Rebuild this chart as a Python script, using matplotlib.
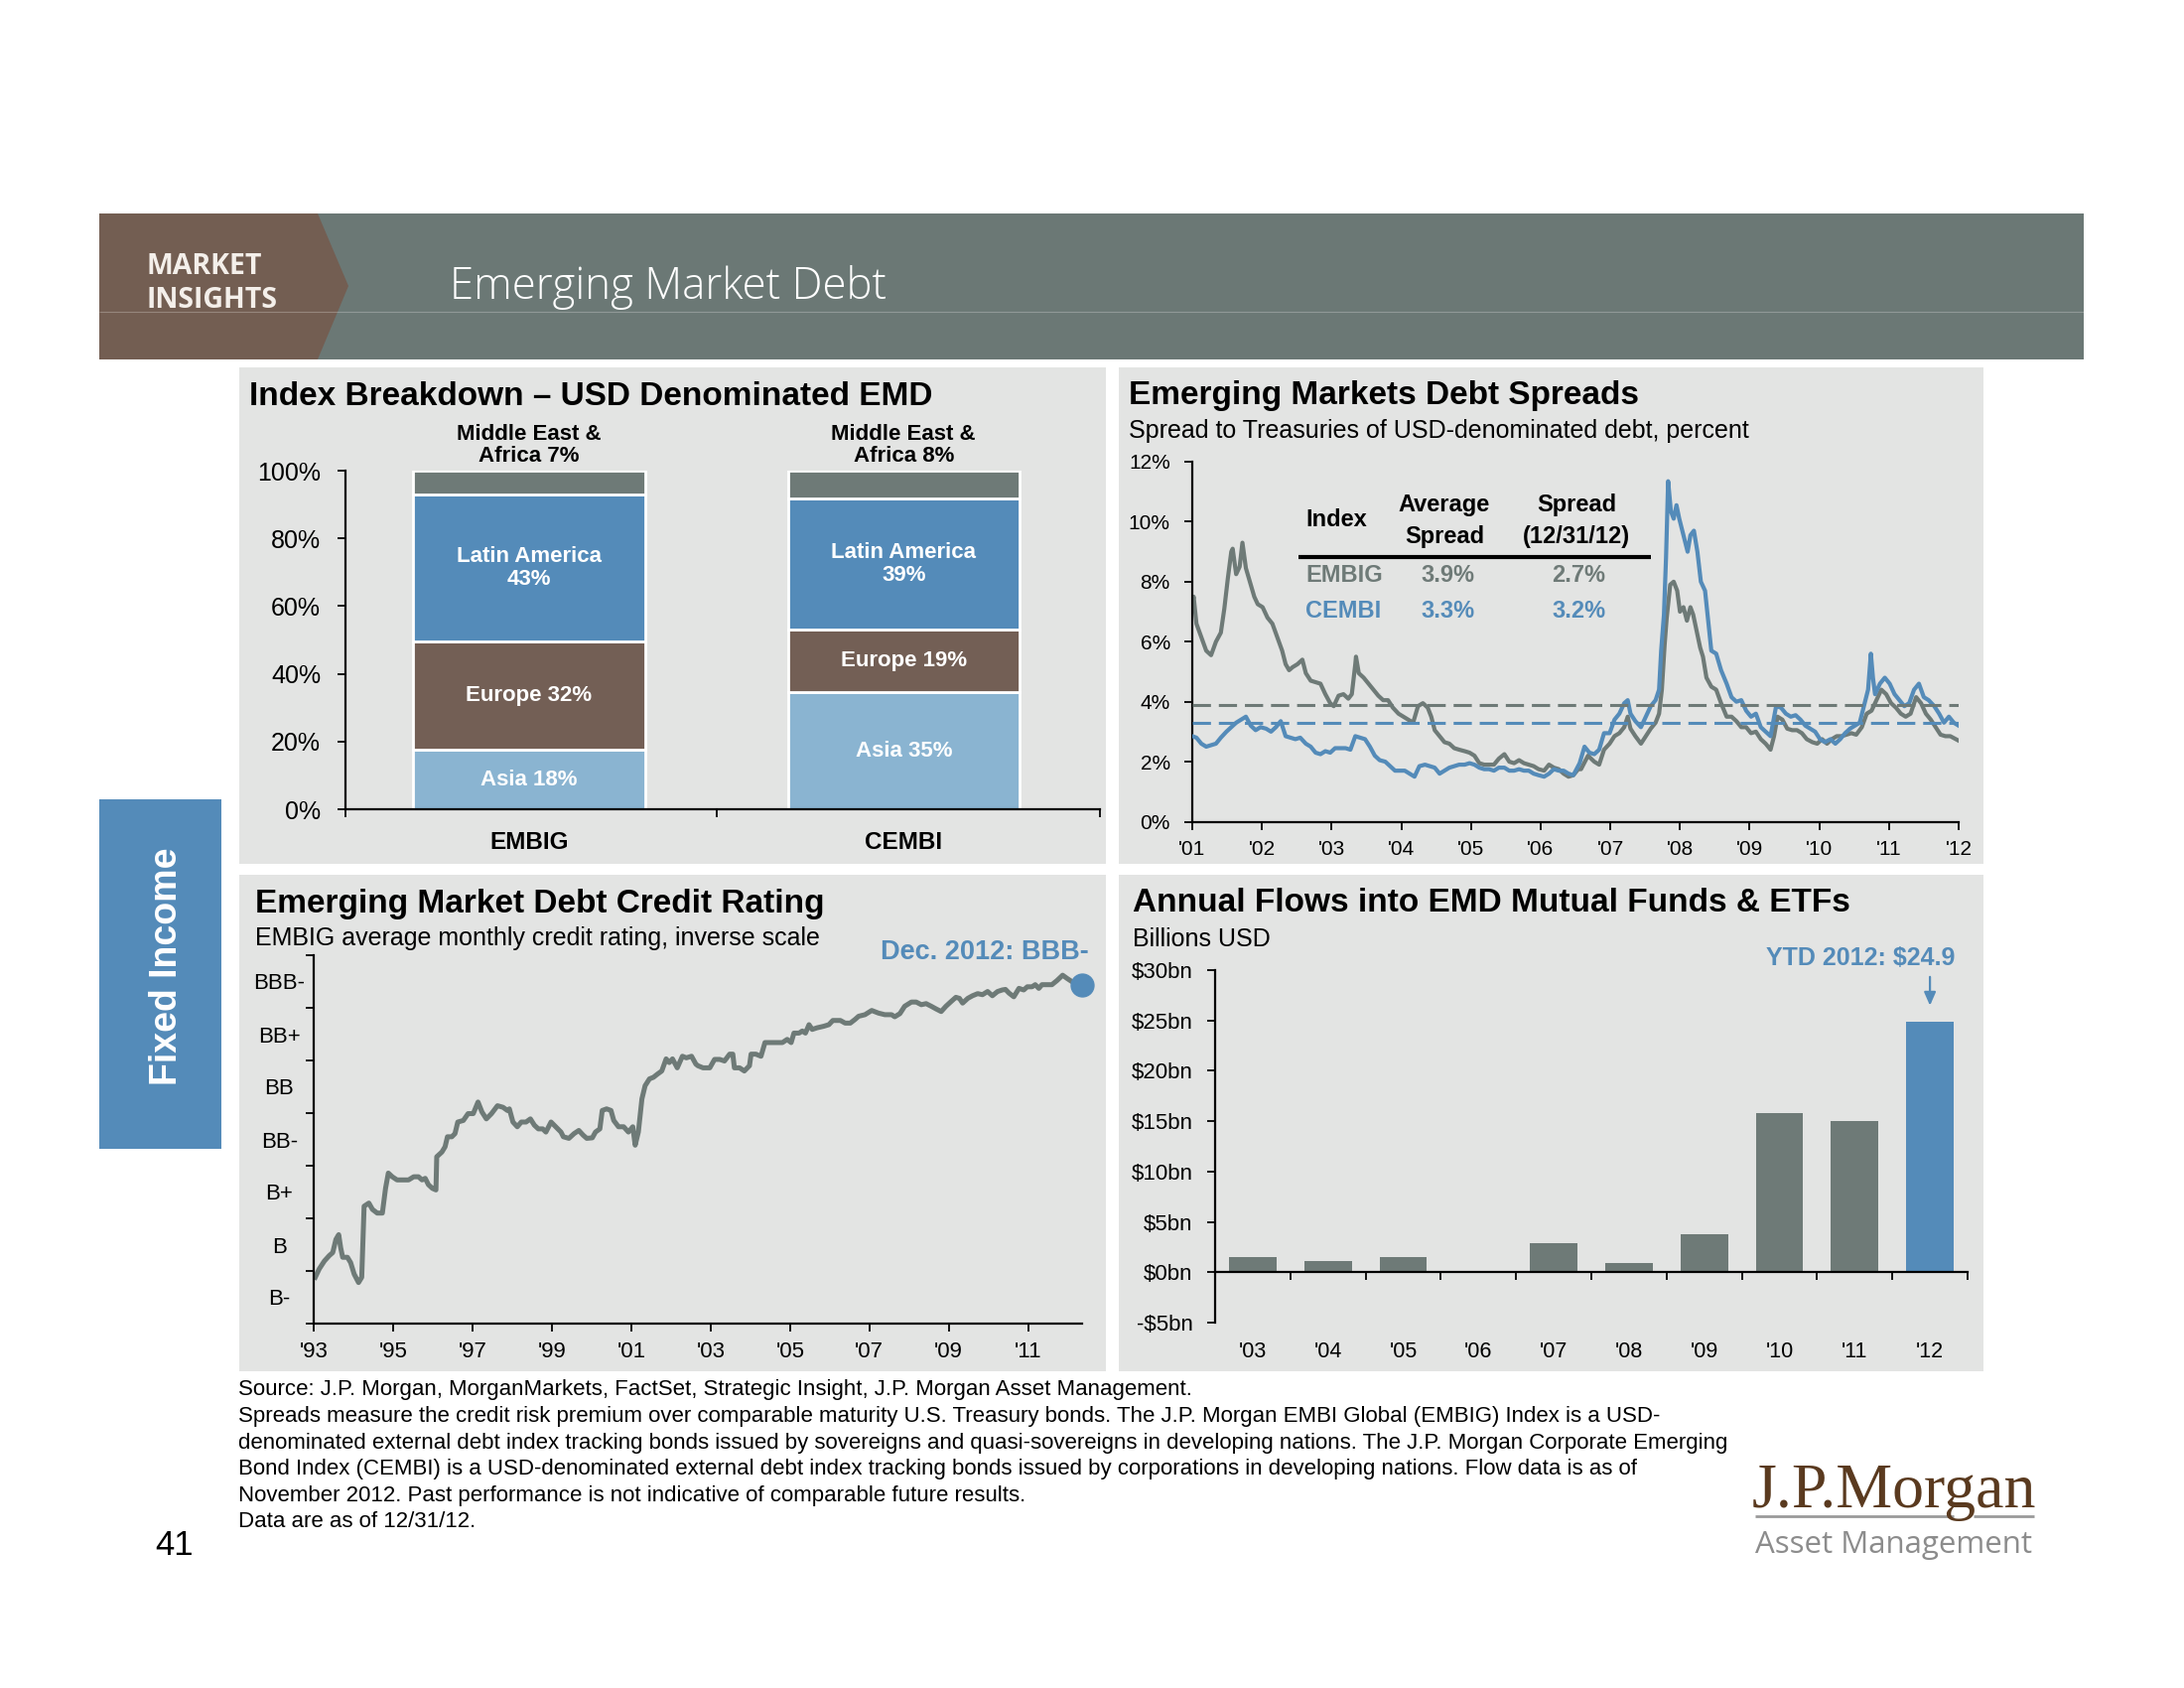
import matplotlib
matplotlib.use('Agg')
import matplotlib.pyplot as plt
from matplotlib.patches import Rectangle, Polygon
from matplotlib.lines import Line2D
from matplotlib import font_manager as fm

# ---------------- DATA ----------------
# Index breakdown (stacked %)
indices = ['EMBIG', 'CEMBI']
asia = [17.5, 34.5]
europe = [32.0, 18.5]
latam = [43.5, 38.8]
mea = [7.0, 8.2]
asia_lbl = ['Asia 18%', 'Asia 35%']
europe_lbl = ['Europe 32%', 'Europe 19%']
latam_lbl = ['Latin America\n43%', 'Latin America\n39%']
mea_lbl = ['Middle East &\nAfrica 7%', 'Middle East &\nAfrica 8%']

# Spreads (percent)
embig_years = [2001.00, 2001.02, 2001.06, 2001.13, 2001.20, 2001.27, 2001.34, 2001.41, 2001.46, 2001.51,
               2001.56, 2001.58, 2001.63, 2001.68, 2001.72, 2001.77, 2001.84, 2001.89, 2001.94,
               2002.01, 2002.08, 2002.15, 2002.22, 2002.29, 2002.34, 2002.39, 2002.44, 2002.51, 2002.58,
               2002.63, 2002.70, 2002.77, 2002.84, 2002.91, 2002.98,
               2003.03, 2003.10, 2003.17, 2003.24, 2003.29, 2003.34, 2003.35, 2003.39, 2003.46, 2003.53,
               2003.60, 2003.67, 2003.74, 2003.81, 2003.88, 2003.96,
               2004.03, 2004.10, 2004.17, 2004.24, 2004.31, 2004.38, 2004.43, 2004.48, 2004.55, 2004.62,
               2004.69, 2004.76, 2004.83, 2004.91, 2004.98,
               2005.05, 2005.12, 2005.19, 2005.26, 2005.33, 2005.40, 2005.48, 2005.55, 2005.62, 2005.69,
               2005.76, 2005.83, 2005.90, 2005.97,
               2006.05, 2006.12, 2006.19, 2006.26, 2006.33, 2006.40, 2006.47, 2006.54,
               2006.58, 2006.68, 2006.77, 2006.84, 2006.91, 2006.99,
               2007.06, 2007.13, 2007.20, 2007.25, 2007.29, 2007.36, 2007.44, 2007.51, 2007.58, 2007.65,
               2007.70, 2007.74, 2007.78, 2007.81, 2007.86, 2007.91, 2007.96,
               2008.00, 2008.05, 2008.10, 2008.15, 2008.19, 2008.24, 2008.29, 2008.33, 2008.38, 2008.45,
               2008.52, 2008.59, 2008.67, 2008.74, 2008.81, 2008.88, 2008.95,
               2009.02, 2009.09, 2009.16, 2009.23, 2009.30, 2009.35, 2009.40, 2009.47, 2009.54, 2009.61,
               2009.68, 2009.75, 2009.82, 2009.90, 2009.97,
               2010.04, 2010.11, 2010.18, 2010.25, 2010.32, 2010.39, 2010.46, 2010.53, 2010.61, 2010.68,
               2010.75, 2010.82, 2010.89, 2010.96,
               2011.03, 2011.10, 2011.17, 2011.24, 2011.31, 2011.39, 2011.46, 2011.53, 2011.60, 2011.67,
               2011.74, 2011.81, 2011.88, 2012.00]
embig_values = [7.3, 7.5, 6.6, 6.15, 5.7, 5.55, 6.0, 6.3, 7.1, 8.1,
                9.0, 9.1, 8.25, 8.5, 9.3, 8.45, 7.9, 7.5, 7.25,
                7.15, 6.8, 6.6, 6.15, 5.7, 5.25, 5.05, 5.15, 5.25, 5.4,
                4.95, 4.7, 4.65, 4.6, 4.25, 3.95,
                3.85, 4.2, 4.25, 4.1, 4.25, 5.25, 5.5, 4.95, 4.8, 4.6,
                4.4, 4.2, 4.05, 4.05, 3.8, 3.6,
                3.5, 3.4, 3.3, 3.85, 3.95, 3.8, 3.5, 3.05, 2.85, 2.65,
                2.6, 2.45, 2.4, 2.35, 2.3,
                2.2, 1.95, 1.9, 1.9, 1.9, 2.1, 2.25, 2.0, 1.95, 2.05,
                1.95, 1.9, 1.85, 1.75,
                1.7, 1.9, 1.8, 1.75, 1.6, 1.5, 1.55, 1.75,
                1.75, 2.2, 2.0, 1.9, 2.4, 2.6,
                2.85, 2.95, 3.15, 3.5, 3.1, 2.85, 2.6, 2.85, 3.1, 3.3,
                3.6, 4.4, 5.9, 6.8, 7.9, 8.0, 7.7,
                7.0, 7.15, 6.7, 7.15, 6.9, 6.35, 5.8, 5.5, 4.8, 4.5,
                4.4, 3.95, 3.5, 3.5, 3.35, 3.15, 3.15,
                2.95, 3.0, 2.75, 2.6, 2.4, 2.85, 3.5, 3.4, 3.1, 3.05,
                3.05, 2.95, 2.75, 2.65, 2.6,
                2.75, 2.6, 2.75, 2.85, 2.85, 2.9, 2.95, 2.9, 3.15, 3.6,
                3.7, 4.05, 4.4, 4.25,
                3.95, 3.8, 3.6, 3.5, 3.6, 4.15, 3.95, 3.6, 3.4, 3.15,
                2.9, 2.85, 2.85, 2.7]
cembi_years = [2001.00, 2001.06, 2001.13, 2001.20, 2001.27, 2001.34, 2001.41, 2001.49, 2001.56, 2001.63,
               2001.70, 2001.77, 2001.84, 2001.91, 2001.98,
               2002.06, 2002.13, 2002.20, 2002.27, 2002.34, 2002.41, 2002.48, 2002.55, 2002.63, 2002.70,
               2002.77, 2002.84, 2002.91, 2002.98,
               2003.05, 2003.12, 2003.20, 2003.27, 2003.34, 2003.41, 2003.48, 2003.55, 2003.62, 2003.69,
               2003.77, 2003.84, 2003.91, 2003.98,
               2004.05, 2004.12, 2004.19, 2004.26, 2004.34, 2004.41, 2004.48, 2004.55, 2004.62, 2004.69,
               2004.76, 2004.83, 2004.91, 2004.98,
               2005.05, 2005.12, 2005.19, 2005.26, 2005.33, 2005.40, 2005.48, 2005.55, 2005.62, 2005.69,
               2005.76, 2005.83, 2005.90, 2005.97,
               2006.05, 2006.12, 2006.19, 2006.26, 2006.33, 2006.40, 2006.47,
               2006.56, 2006.63, 2006.70, 2006.77, 2006.84, 2006.91, 2006.99,
               2007.06, 2007.13, 2007.20, 2007.25, 2007.29, 2007.36, 2007.44, 2007.51, 2007.58, 2007.65,
               2007.70, 2007.73, 2007.77, 2007.80, 2007.83, 2007.87, 2007.91, 2007.95, 2007.99,
               2008.05, 2008.11, 2008.15, 2008.20, 2008.25, 2008.30, 2008.36, 2008.41, 2008.45, 2008.52,
               2008.59, 2008.67, 2008.74, 2008.81, 2008.88, 2008.95,
               2009.02, 2009.09, 2009.16, 2009.23, 2009.30, 2009.38, 2009.45, 2009.52, 2009.59, 2009.66,
               2009.73, 2009.80, 2009.87, 2009.94,
               2010.01, 2010.08, 2010.16, 2010.23, 2010.30, 2010.37, 2010.44, 2010.51, 2010.58, 2010.65,
               2010.70, 2010.74, 2010.77, 2010.80, 2010.87, 2010.94,
               2011.01, 2011.08, 2011.15, 2011.22, 2011.29, 2011.36, 2011.43, 2011.50, 2011.57, 2011.65,
               2011.72, 2011.79, 2011.86, 2011.93, 2012.00]
cembi_values = [2.85, 2.8, 2.6, 2.5, 2.55, 2.6, 2.8, 3.0, 3.15, 3.3,
                3.4, 3.5, 3.2, 3.05, 3.15,
                3.1, 3.0, 3.15, 3.35, 2.85, 2.8, 2.75, 2.8, 2.6, 2.5,
                2.3, 2.25, 2.35, 2.3,
                2.45, 2.45, 2.45, 2.4, 2.85, 2.8, 2.75, 2.5, 2.2, 2.05,
                2.0, 1.85, 1.7, 1.7,
                1.7, 1.6, 1.5, 1.85, 1.9, 1.85, 1.8, 1.6, 1.7, 1.8,
                1.85, 1.9, 1.9, 1.95,
                1.9, 1.8, 1.75, 1.75, 1.7, 1.8, 1.8, 1.7, 1.7, 1.75,
                1.7, 1.7, 1.6, 1.55,
                1.5, 1.6, 1.75, 1.7, 1.7, 1.6, 1.55,
                1.95, 2.5, 2.3, 2.25, 2.4, 2.95, 2.95,
                3.4, 3.6, 3.95, 4.05, 3.6, 3.35, 3.15, 3.5, 3.85, 4.05,
                4.4, 5.7, 6.9, 8.8, 11.35, 10.35, 10.1, 10.55, 10.1,
                9.55, 9.0, 9.55, 9.7, 9.0, 8.0, 7.7, 6.6, 5.7, 5.6,
                5.05, 4.6, 4.15, 4.0, 4.05, 3.7,
                3.5, 3.6, 3.15, 3.0, 2.85, 3.85, 3.8, 3.6, 3.5, 3.55,
                3.4, 3.2, 3.1, 3.0,
                2.75, 2.65, 2.75, 2.6, 2.75, 2.95, 3.1, 3.2, 3.3, 3.95,
                4.4, 5.6, 4.8, 4.25, 4.6, 4.8,
                4.6, 4.25, 4.05, 3.85, 3.95, 4.4, 4.6, 4.15, 4.05, 3.85,
                3.6, 3.3, 3.5, 3.3, 3.2]
spread_avg = [3.9, 3.3]          # EMBIG, CEMBI average spread
spread_last = [2.7, 3.2]         # spread at 12/31/12
spread_year_ticks = list(range(2001, 2013))
spread_year_labels = ["'01", "'02", "'03", "'04", "'05", "'06", "'07", "'08", "'09", "'10", "'11", "'12"]

# Credit rating (band index: 0.5 = B- ... 6.5 = BBB-)
rating_labels = ['B-', 'B', 'B+', 'BB-', 'BB', 'BB+', 'BBB-']
rating_years = [1993.04, 1993.14, 1993.27, 1993.39, 1993.48, 1993.56, 1993.63, 1993.68, 1993.73, 1993.85,
                1993.93, 1994.02, 1994.13, 1994.21, 1994.27, 1994.39, 1994.48, 1994.60, 1994.73, 1994.81,
                1994.88, 1994.98, 1995.10, 1995.23, 1995.39, 1995.52, 1995.64, 1995.73, 1995.81, 1995.89,
                1995.99, 1996.08, 1996.10, 1996.23, 1996.31, 1996.37, 1996.48, 1996.56, 1996.63, 1996.77,
                1996.89, 1997.02, 1997.14, 1997.24, 1997.35, 1997.48, 1997.63, 1997.77, 1997.88, 1997.93,
                1998.02, 1998.13, 1998.23, 1998.35, 1998.46, 1998.56, 1998.66, 1998.77, 1998.85, 1998.98,
                1999.10, 1999.23, 1999.29, 1999.43, 1999.56, 1999.68, 1999.79, 1999.88, 2000.02, 2000.10,
                2000.21, 2000.27, 2000.38, 2000.49, 2000.56, 2000.68, 2000.81, 2000.93, 2001.04, 2001.10,
                2001.18, 2001.27, 2001.35, 2001.46, 2001.56, 2001.66, 2001.77, 2001.88, 2001.96, 2002.04,
                2002.16, 2002.29, 2002.39, 2002.52, 2002.63,
                2002.68, 2002.81, 2002.98, 2003.10, 2003.23, 2003.35, 2003.48, 2003.56, 2003.60, 2003.73,
                2003.85, 2003.98, 2004.02, 2004.14, 2004.27, 2004.37, 2004.48, 2004.64, 2004.81, 2004.93,
                2005.03, 2005.10, 2005.23, 2005.31, 2005.39, 2005.48, 2005.56, 2005.68, 2005.85, 2005.98,
                2006.08, 2006.27, 2006.39, 2006.52, 2006.64, 2006.73, 2006.89, 2007.06, 2007.23, 2007.39,
                2007.56, 2007.64, 2007.77, 2007.89, 2008.06, 2008.18, 2008.31, 2008.43, 2008.56, 2008.68,
                2008.81, 2008.93, 2009.06, 2009.18, 2009.27, 2009.35, 2009.48, 2009.60, 2009.73, 2009.85,
                2009.98, 2010.10, 2010.23, 2010.35, 2010.43, 2010.52, 2010.64, 2010.77, 2010.89, 2010.98,
                2011.10, 2011.18, 2011.27, 2011.35, 2011.48, 2011.60, 2011.73, 2011.87, 2011.98, 2012.10,
                2012.27, 2012.36]
rating_values = [0.88, 1.04, 1.19, 1.29, 1.35, 1.60, 1.69, 1.44, 1.26, 1.26,
                 1.16, 0.94, 0.78, 0.88, 2.23, 2.29, 2.17, 2.10, 2.10, 2.57,
                 2.86, 2.79, 2.73, 2.73, 2.73, 2.79, 2.79, 2.73, 2.76, 2.64,
                 2.57, 2.54, 3.17, 3.26, 3.36, 3.55, 3.55, 3.61, 3.83, 3.86,
                 3.99, 3.99, 4.21, 4.02, 3.89, 3.99, 4.14, 4.11, 4.05, 4.08,
                 3.83, 3.74, 3.83, 3.83, 3.89, 3.77, 3.70, 3.70, 3.64, 3.83,
                 3.74, 3.64, 3.55, 3.52, 3.61, 3.67, 3.58, 3.52, 3.53, 3.64,
                 3.70, 4.05, 4.08, 4.05, 3.86, 3.74, 3.74, 3.64, 3.74, 3.39,
                 3.64, 4.27, 4.52, 4.65, 4.68, 4.74, 4.80, 5.03, 4.96, 5.03,
                 4.86, 5.08, 5.05, 5.08, 4.93,
                 4.90, 4.86, 4.86, 5.02, 5.02, 4.99, 5.12, 5.12, 4.86, 4.86,
                 4.80, 4.90, 5.12, 5.12, 5.08, 5.34, 5.34, 5.34, 5.34, 5.40,
                 5.34, 5.52, 5.52, 5.56, 5.52, 5.68, 5.59, 5.62, 5.65, 5.68,
                 5.76, 5.76, 5.71, 5.71, 5.78, 5.84, 5.87, 5.95, 5.90, 5.87,
                 5.87, 5.83, 5.89, 6.03, 6.11, 6.11, 6.06, 6.08, 6.03, 5.98,
                 5.93, 6.03, 6.12, 6.20, 6.18, 6.09, 6.18, 6.23, 6.27, 6.25,
                 6.31, 6.23, 6.31, 6.34, 6.35, 6.28, 6.21, 6.37, 6.34, 6.40,
                 6.40, 6.44, 6.37, 6.44, 6.44, 6.44, 6.52, 6.62, 6.56, 6.50,
                 6.44, 6.44]
rating_year_ticks = list(range(1993, 2012, 2))
rating_year_labels = ["'93", "'95", "'97", "'99", "'01", "'03", "'05", "'07", "'09", "'11"]

# Annual flows (billions USD)
flow_labels = ["'03", "'04", "'05", "'06", "'07", "'08", "'09", "'10", "'11", "'12"]
flow_values = [1.5, 1.1, 1.5, 0.1, 2.9, 0.9, 3.75, 15.8, 15.0, 24.9]
flow_ticks = [-5, 0, 5, 10, 15, 20, 25, 30]

footnotes = [
    "Source: J.P. Morgan, MorganMarkets, FactSet, Strategic Insight, J.P. Morgan Asset Management.",
    "Spreads measure the credit risk premium over comparable maturity U.S. Treasury bonds. The J.P. Morgan EMBI Global (EMBIG) Index is a USD-",
    "denominated external debt index tracking bonds issued by sovereigns and quasi-sovereigns in developing nations. The J.P. Morgan Corporate Emerging",
    "Bond Index (CEMBI) is a USD-denominated external debt index tracking bonds issued by corporations in developing nations. Flow data is as of",
    "November 2012. Past performance is not indicative of comparable future results.",
    "Data are as of 12/31/12.",
]

# ---------------- STYLE ----------------
names = {f.name for f in fm.fontManager.ttflist}
SANS = 'Liberation Sans' if 'Liberation Sans' in names else 'DejaVu Sans'
HEAD = 'Open Sans' if 'Open Sans' in names else SANS
SERIF = 'Liberation Serif' if 'Liberation Serif' in names else 'DejaVu Serif'
plt.rcParams['font.family'] = [SANS, 'DejaVu Sans']

GRAY = '#6E7A77'
BLUE = '#548BB9'
LBLUE = '#8AB4D1'
BROWN = '#735F55'
PANEL = '#E3E4E3'
HEADER_GRAY = '#6B7875'
HEADER_BROWN = '#735E52'

W, H = 2200, 1700
fig = plt.figure(figsize=(22, 17), dpi=100)
fig.patch.set_facecolor('white')


def fx(x):
    return x / W


def fy(y):
    return 1 - y / H


def ftext(x, y, s, **kw):
    kw.setdefault('va', 'center')
    return fig.text(fx(x), fy(y), s, **kw)


def frect(x0, y0, x1, y1, color, z=0):
    fig.add_artist(Rectangle((fx(x0), fy(y1)), (x1 - x0) / W, (y1 - y0) / H,
                             transform=fig.transFigure, facecolor=color,
                             edgecolor='none', zorder=z))


def fline(x0, y0, x1, y1, color, lw, z=2, alpha=1.0):
    ln = Line2D([fx(x0), fx(x1)], [fy(y0), fy(y1)], transform=fig.transFigure,
                color=color, lw=lw, zorder=z, solid_capstyle='butt', alpha=alpha)
    fig.add_artist(ln)
    return ln


def add_axes_px(x0, y0, x1, y1):
    ax = fig.add_axes([fx(x0), fy(y1), (x1 - x0) / W, (y1 - y0) / H])
    ax.set_facecolor('none')
    for s in ('top', 'right'):
        ax.spines[s].set_visible(False)
    for s in ('left', 'bottom'):
        ax.spines[s].set_linewidth(1.6)
        ax.spines[s].set_color('black')
    return ax


# ---------------- HEADER ----------------
frect(100, 215, 2099, 362, HEADER_GRAY)
fig.add_artist(Polygon([(fx(100), fy(215)), (fx(320), fy(215)), (fx(351), fy(288)),
                        (fx(320), fy(362)), (fx(100), fy(362))],
                       closed=True, transform=fig.transFigure, facecolor=HEADER_BROWN,
                       edgecolor='none', zorder=1))
fline(100, 314, 2099, 314, '#FFFFFF', 0.8, z=2, alpha=0.25)
ftext(147, 269, 'MARKET', family=[HEAD, SANS], fontsize=20.5, fontweight='bold', color='#F4EFEA')
ftext(147, 302, 'INSIGHTS', family=[HEAD, SANS], fontsize=20.5, fontweight='bold', color='#F4EFEA')
ftext(453, 289, 'Emerging Market Debt', family=[HEAD, SANS], fontsize=31.5, fontweight='light',
      color='white')

# Side tab
frect(100, 805, 223, 1157, BLUE)
ftext(168, 973, 'Fixed Income', fontsize=27, fontweight='bold', color='white', rotation=90,
      ha='center')

# Panels
frect(241, 370, 1114, 870, PANEL)
frect(1127, 370, 1998, 870, PANEL)
frect(241, 881, 1114, 1381, PANEL)
frect(1127, 881, 1998, 1381, PANEL)

# ---------------- PANEL 1: Index breakdown ----------------
ftext(251, 399, 'Index Breakdown \u2013 USD Denominated EMD', fontsize=24, fontweight='bold')
ax1 = add_axes_px(348, 474, 1108, 815)
xs = list(range(len(indices)))
bw = 0.618
b_asia = ax1.bar(xs, asia, bw, color=LBLUE, edgecolor='white', linewidth=2)
b_eur = ax1.bar(xs, europe, bw, bottom=asia, color=BROWN, edgecolor='white', linewidth=2)
bot3 = [a + e for a, e in zip(asia, europe)]
b_lat = ax1.bar(xs, latam, bw, bottom=bot3, color=BLUE, edgecolor='white', linewidth=2)
bot4 = [b + l for b, l in zip(bot3, latam)]
b_mea = ax1.bar(xs, mea, bw, bottom=bot4, color=GRAY, edgecolor='white', linewidth=2)
for bars, lbls in ((b_asia, asia_lbl), (b_eur, europe_lbl), (b_lat, latam_lbl)):
    ax1.bar_label(bars, labels=lbls, label_type='center', color='white', fontsize=16,
                  fontweight='bold', linespacing=1.1)
ax1.bar_label(b_mea, labels=mea_lbl, label_type='edge', padding=3, color='black', fontsize=16,
              fontweight='bold', linespacing=1.05)
ax1.set_ylim(0, 100)
ax1.set_xlim(-0.49, 1.524)
ax1.set_yticks([0, 20, 40, 60, 80, 100])
ax1.set_yticklabels(['0%', '20%', '40%', '60%', '80%', '100%'])
ax1.tick_params(axis='y', length=6, width=1.3, pad=12, labelsize=18, direction='out')
ax1.set_xticks([-0.49, 0.5, 1.524])
ax1.set_xticklabels([])
ax1.tick_params(axis='x', which='major', length=6, width=1.3, direction='out')
ax1.set_xticks(xs, minor=True)
ax1.set_xticklabels(indices, minor=True, fontweight='bold', fontsize=17.5)
ax1.tick_params(axis='x', which='minor', length=0, pad=16)

# ---------------- PANEL 2: Spreads ----------------
ftext(1137, 399, 'Emerging Markets Debt Spreads', fontsize=24, fontweight='bold')
ftext(1137, 434, 'Spread to Treasuries of USD-denominated debt, percent', fontsize=18)
ax2 = add_axes_px(1201, 465, 1973, 827.5)
ax2.plot(embig_years, embig_values, color=GRAY, lw=3.0, zorder=2)
ax2.plot(cembi_years, cembi_values, color=BLUE, lw=3.0, zorder=3)
ax2.axhline(spread_avg[0], color=GRAY, lw=2.2, dashes=(6, 2.6), zorder=4)
ax2.axhline(spread_avg[1], color=BLUE, lw=2.2, dashes=(6, 2.6), zorder=4)
ax2.set_xlim(2001, 2012)
ax2.set_ylim(0, 12)
ax2.set_yticks(range(0, 13, 2))
ax2.set_yticklabels([f'{v}%' for v in range(0, 13, 2)])
ax2.set_xticks(spread_year_ticks)
ax2.set_xticklabels(spread_year_labels)
ax2.tick_params(axis='y', length=6, width=1.3, pad=10, labelsize=15)
ax2.tick_params(axis='x', length=6, width=1.3, pad=7, labelsize=15)

# table
ftext(1315, 523, 'Index', fontsize=17, fontweight='bold')
ftext(1455, 508, 'Average', fontsize=17, fontweight='bold', ha='center')
ftext(1455, 540, 'Spread', fontsize=17, fontweight='bold', ha='center')
ftext(1588, 508, 'Spread', fontsize=17, fontweight='bold', ha='center')
ftext(1588, 540, '(12/31/12)', fontsize=17, fontweight='bold', ha='center')
fline(1308, 561, 1663, 561, 'black', 3)
for i, (name, col, yy) in enumerate((('EMBIG', GRAY, 579), ('CEMBI', BLUE, 615))):
    ftext(1315, yy, name, fontsize=17, fontweight='bold', color=col)
    ftext(1458, yy, f'{spread_avg[i]:.1f}%', fontsize=17, fontweight='bold', color=col, ha='center')
    ftext(1590, yy, f'{spread_last[i]:.1f}%', fontsize=17, fontweight='bold', color=col, ha='center')

# ---------------- PANEL 3: Credit rating ----------------
ftext(257, 911, 'Emerging Market Debt Credit Rating', fontsize=24, fontweight='bold')
ftext(257, 945, 'EMBIG average monthly credit rating, inverse scale', fontsize=18)
ftext(1097, 959, 'Dec. 2012: BBB-', fontsize=19.5, fontweight='bold', color=BLUE, ha='right')
ax3 = add_axes_px(316, 962, 1090, 1333)
ax3.plot(rating_years, rating_values, color=GRAY, lw=3.6, solid_joinstyle='round', zorder=2)
ax3.plot([rating_years[-1]], [rating_values[-1]], 'o', ms=16.5, color=BLUE, clip_on=False, zorder=5)
ax3.set_xlim(1993, 2012.36)
ax3.set_ylim(0, 7)
ax3.set_yticks(range(0, 8))
ax3.set_yticklabels([])
ax3.set_yticks([v + 0.5 for v in range(7)], minor=True)
ax3.set_yticklabels(rating_labels, minor=True, fontsize=16)
ax3.tick_params(axis='y', which='major', length=6, width=1.3)
ax3.tick_params(axis='y', which='minor', length=0, pad=25)
for lab in ax3.get_yticklabels(minor=True):
    lab.set_horizontalalignment('center')
ax3.set_xticks(rating_year_ticks)
ax3.set_xticklabels(rating_year_labels)
ax3.tick_params(axis='x', length=6, width=1.3, pad=7, labelsize=16)

# ---------------- PANEL 4: Flows ----------------
ftext(1141, 910, 'Annual Flows into EMD Mutual Funds & ETFs', fontsize=24, fontweight='bold')
ftext(1141, 946, 'Billions USD', fontsize=18)
ax4 = add_axes_px(1224, 977, 1982, 1332)
fxs = list(range(len(flow_values)))
fcolors = [GRAY] * (len(flow_values) - 1) + [BLUE]
ax4.bar(fxs, flow_values, 0.63, color=fcolors, zorder=2)
ax4.set_xlim(-0.5, len(flow_values) - 0.5)
ax4.set_ylim(-5, 30)
ax4.spines['bottom'].set_position(('data', 0))
ax4.set_yticks(flow_ticks)
ax4.set_yticklabels([('-$%dbn' % abs(v)) if v < 0 else ('$%dbn' % v) for v in flow_ticks])
ax4.tick_params(axis='y', length=6, width=1.3, pad=10, labelsize=16)
ax4.set_xticks([i + 0.5 for i in range(len(flow_values))])
ax4.set_xticklabels([])
ax4.tick_params(axis='x', length=6, width=1.3, direction='out')
sec = ax4.secondary_xaxis(0.0)
sec.set_xticks(fxs)
sec.set_xticklabels(flow_labels)
sec.tick_params(length=0, pad=14, labelsize=15.5)
sec.spines['bottom'].set_visible(False)
ax4.annotate('', xy=(9, 26.2), xytext=(9, 29.6),
             arrowprops=dict(arrowstyle='-|>,head_length=0.8,head_width=0.35', color=BLUE, lw=1.6),
             annotation_clip=False)
ax4.text(9.33, 31.2, f'YTD 2012: ${flow_values[-1]:.1f}', color=BLUE, fontsize=18,
         fontweight='bold', ha='right', va='center', clip_on=False)

# ---------------- FOOTER ----------------
for i, line in enumerate(footnotes):
    ftext(240, 1400 + i * 26.6, line, fontsize=16.05)
ftext(176, 1557, '41', fontsize=25, ha='center')

# Logo
ftext(1765, 1518, 'J.P.Morgan', family=[SERIF, 'DejaVu Serif'], fontsize=46, color='#5A3A1F',
      va='baseline')
fline(1768, 1527, 1968, 1527, '#9A9A9A', 2)
fline(1988, 1527, 2049, 1527, '#9A9A9A', 2)
ftext(1768, 1556, 'Asset Management', family=[HEAD, SANS], fontsize=22.5, color='#8C8C8C')

fig.savefig('out.png', dpi=100, facecolor='white')
